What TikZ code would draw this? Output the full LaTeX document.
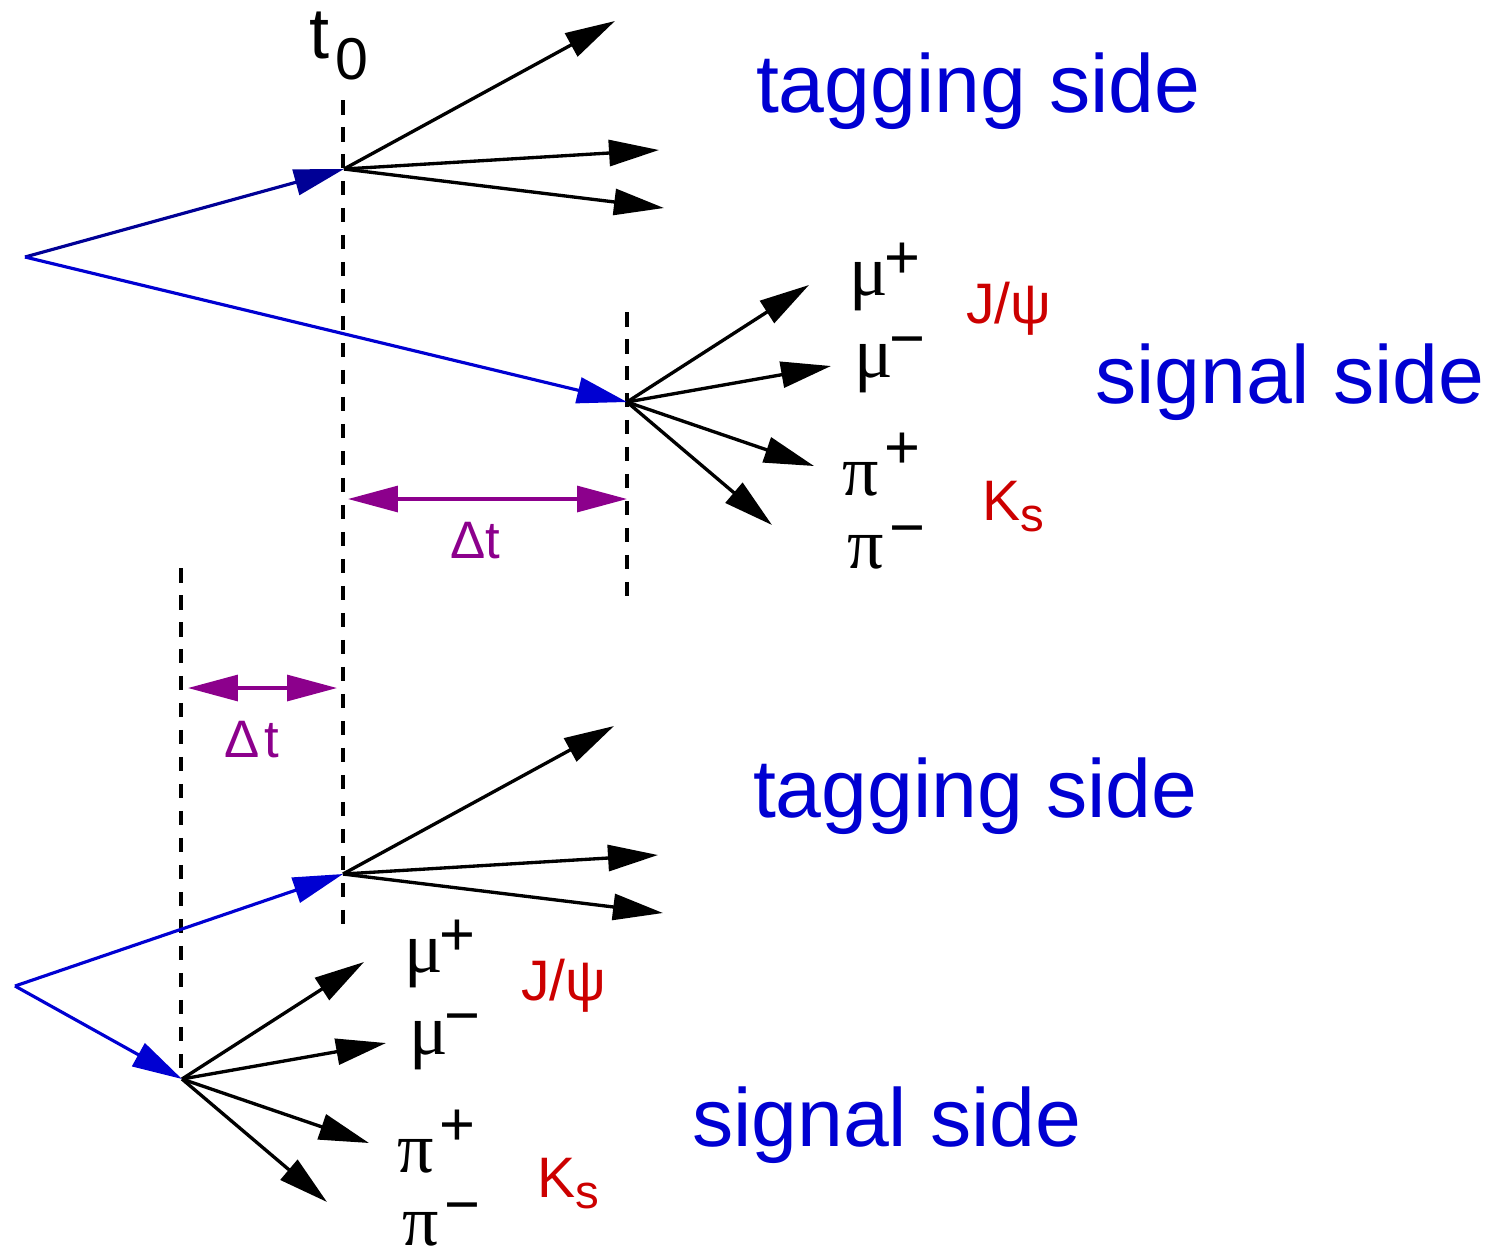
\documentclass[tikz,border=0pt]{standalone}
\usepackage{fontspec}
\setmainfont{Liberation Sans}
\newfontfamily\grkfont{Liberation Serif}
\usetikzlibrary{arrows.meta}
\definecolor{navyb}{RGB}{0,0,150}
\definecolor{brb}{RGB}{0,0,210}
\definecolor{redk}{RGB}{204,0,0}
\definecolor{purp}{RGB}{140,0,140}
\tikzset{
  tipend/.style={-{Triangle[length=1cm,width=0.52cm]}},
  blk/.style={tipend, line width=1.9pt, black},
  bl/.style={tipend, line width=1.8pt, brb},
  nb/.style={tipend, line width=1.8pt, navyb},
  dsh/.style={line width=1.9pt, dash pattern=on 0.29cm off 0.25cm},
  dtarrow/.style={{Triangle[length=1cm,width=0.52cm]}-{Triangle[length=1cm,width=0.52cm]}, line width=1.8pt, purp},
  lbl/.style={inner sep=0pt, outer sep=0pt},
  side/.style={lbl, anchor=base west, text=brb, font=\fontsize{46.9}{56}\selectfont},
  grk/.style={lbl, anchor=base west, font=\grkfont\fontsize{41}{48}\selectfont},
  sgn/.style={lbl, anchor=base, font=\fontsize{35}{42}\selectfont},
  res/.style={lbl, anchor=base west, text=redk, font=\fontsize{32.5}{38}\selectfont},
  dtl/.style={lbl, anchor=base west, text=purp, font=\fontsize{30}{36}\selectfont},
  sigdecay/.pic={
    \coordinate (-v) at (0,0);
    \coordinate (-e1) at (182,-117);
    \coordinate (-e2) at (204,-36);
    \coordinate (-e3) at (187,64);
    \coordinate (-e4) at (145,123);
    \draw[blk] (-v) -- (-e1);
    \draw[blk] (-v) -- (-e2);
    \draw[blk] (-v) -- (-e3);
    \draw[blk] (-v) -- (-e4);
    \node[grk] (-mu1) at (222,-107) {μ};
    \node[sgn] (-pl1) at (275,-124) {+};
    \node[grk] (-mu2) at (227,-25) {μ};
    \node[sgn] (-mi1) at (280,-43) {−};
    \node[grk] (-pi1) at (215,93) {π};
    \node[sgn] (-pl2) at (275,66) {+};
    \node[grk] (-pi2) at (220,166) {π};
    \node[sgn] (-mi2) at (280,146) {−};
    \node[res] (-jpsi) at (339,-79) {J/ψ};
    \node[res] (-ks) at (355,118) {K\raisebox{-0.22cm}{\fontsize{27}{32}\selectfont s}};
  },
  tagdecay/.pic={
    \coordinate (-v) at (0,0);
    \coordinate (-e1) at (271,-148);
    \coordinate (-e2) at (315,-19);
    \coordinate (-e3) at (320,39);
    \draw[blk] (-v) -- (-e1);
    \draw[blk] (-v) -- (-e2);
    \draw[blk] (-v) -- (-e3);
  }
}
\begin{document}
\begin{tikzpicture}[x=0.02cm,y=-0.02cm]
\useasboundingbox (0,0) rectangle (1491,1249);
% vertices
\coordinate (O1) at (25,257);
\coordinate (T1) at (344,169);
\coordinate (S1) at (627,402);
\coordinate (O2) at (15,986);
\coordinate (T2) at (343,874);
\coordinate (S2) at (182,1079);
% dashed time lines
\coordinate (d1a) at (343,100);
\coordinate (d1b) at (343,935);
\coordinate (d2a) at (627,312);
\coordinate (d2b) at (627,602);
\coordinate (d3a) at (181,568);
\coordinate (d3b) at (181,1077);
\draw[dsh] (d1a) -- (d1b);
\draw[dsh] (d2a) -- (d2b);
\draw[dsh] (d3a) -- (d3b);
% t0 label
\node[lbl, anchor=base west, font=\fontsize{41}{48}\selectfont] (t0) at (309,58)
  {t\kern0.12cm\raisebox{-0.42cm}{\fontsize{33.6}{40}\selectfont 0}};
% top event
\draw[nb] (O1) -- (T1);
\draw[bl] (O1) -- (S1);
\pic (td1) at (T1) {tagdecay};
\pic (sd1) at (S1) {sigdecay};
% bottom event
\draw[bl] (O2) -- (T2);
\draw[bl] (O2) -- (S2);
\pic (td2) at (T2) {tagdecay};
\pic (sd2) at (S2) {sigdecay};
% delta t arrows
\coordinate (p1a) at (348,499);
\coordinate (p1b) at (627,499);
\coordinate (p2a) at (188,688);
\coordinate (p2b) at (337,688);
\draw[dtarrow] (p1a) -- (p1b);
\draw[dtarrow] (p2a) -- (p2b);
\node[dtl] (dt1) at (450,558) {Δt};
\node[dtl] (dt2) at (224,757) {Δ\kern0.1cm t};
% side labels
\node[side] (tag1) at (756,112) {tagging side};
\node[side] (sig1) at (1095,403) {signal side};
\node[side] (tag2) at (753,817) {tagging side};
\node[side] (sig2) at (692,1146) {signal side};
\end{tikzpicture}
\end{document}
